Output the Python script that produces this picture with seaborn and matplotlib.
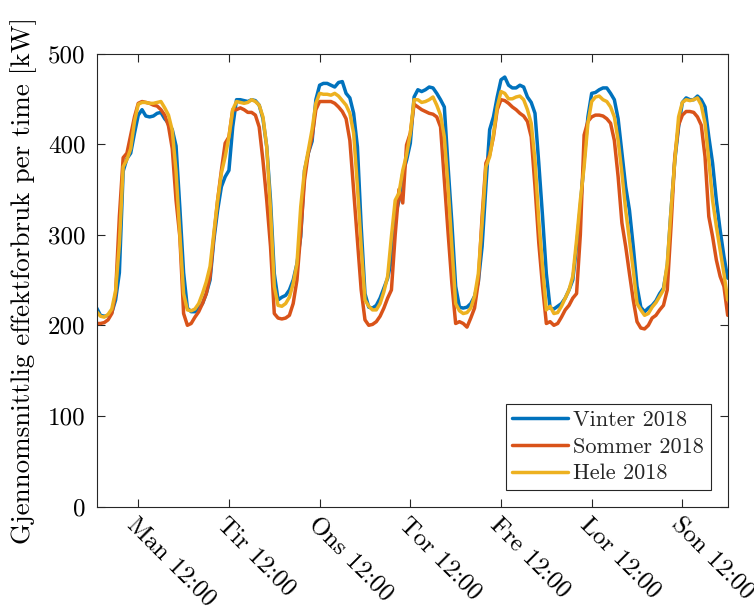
import matplotlib
matplotlib.use('Agg')
import matplotlib.pyplot as plt
import pandas as pd
import seaborn as sns

# ---------------- data ----------------
hours = list(range(1, 169))

vinter = [
    219, 211, 210, 211, 214, 228, 258, 370, 384, 390, 412, 432, 438, 431, 430, 431, 434, 435, 428, 423, 416, 398, 330, 258,
    219, 215, 215, 219, 224, 235, 250, 294, 327, 353, 364, 371, 419, 449, 449, 448, 447, 449, 448, 443, 428, 397, 338, 257,
    228, 231, 233, 239, 250, 268, 298, 371, 390, 403, 449, 465, 467, 467, 465, 463, 468, 469, 456, 451, 434, 397, 309, 235,
    220, 219, 222, 230, 241, 252, 272, 320, 338, 368, 382, 401, 452, 460, 458, 460, 463, 462, 456, 449, 441, 375, 313, 243,
    220, 219, 220, 224, 232, 248, 287, 353, 416, 430, 452, 471, 474, 465, 462, 462, 465, 463, 452, 446, 434, 379, 320, 257,
    219, 218, 221, 224, 230, 239, 250, 287, 331, 382, 430, 456, 457, 460, 462, 462, 456, 449, 428, 390, 353, 327, 287, 243,
    220, 215, 219, 222, 227, 235, 241, 265, 327, 382, 419, 446, 451, 449, 449, 453, 449, 441, 408, 379, 338, 305, 276, 252,
]

sommer = [
    202, 202, 203, 206, 213, 235, 320, 385, 390, 410, 430, 445, 447, 446, 445, 443, 442, 438, 432, 420, 395, 338, 298, 213,
    200, 202, 209, 215, 224, 235, 254, 298, 338, 371, 401, 408, 438, 438, 440, 438, 435, 435, 432, 419, 382, 338, 287, 213,
    208, 207, 208, 211, 224, 250, 302, 360, 390, 408, 438, 447, 447, 447, 447, 445, 441, 436, 428, 404, 349, 294, 239, 206,
    200, 201, 204, 210, 219, 230, 239, 300, 350, 335, 399, 412, 444, 441, 438, 436, 434, 433, 430, 419, 360, 302, 246, 202,
    204, 202, 198, 208, 219, 248, 320, 379, 388, 408, 438, 449, 448, 445, 441, 438, 434, 431, 425, 408, 353, 291, 243, 202,
    204, 200, 202, 209, 217, 222, 230, 235, 300, 410, 425, 430, 432, 432, 431, 428, 423, 404, 364, 313, 287, 257, 228, 204,
    197, 196, 200, 208, 211, 217, 222, 239, 309, 386, 421, 432, 436, 436, 435, 430, 421, 386, 320, 298, 272, 254, 243, 211,
]

hele = [
    215, 210, 209, 212, 218, 238, 290, 375, 383, 395, 425, 444, 446, 446, 445, 445, 446, 447, 440, 432, 415, 370, 300, 235,
    217, 216, 218, 224, 235, 248, 265, 302, 338, 368, 386, 408, 438, 447, 446, 445, 446, 449, 447, 443, 430, 397, 327, 243,
    222, 221, 224, 231, 246, 268, 331, 371, 393, 416, 445, 456, 455, 455, 454, 456, 453, 448, 443, 434, 412, 353, 287, 228,
    221, 217, 217, 224, 237, 254, 298, 338, 346, 371, 388, 412, 449, 449, 446, 447, 449, 452, 443, 432, 408, 353, 287, 224,
    216, 213, 214, 219, 232, 257, 313, 375, 386, 410, 441, 458, 456, 450, 450, 452, 453, 449, 438, 423, 382, 316, 265, 217,
    221, 213, 214, 221, 230, 239, 254, 294, 338, 375, 423, 447, 452, 453, 449, 447, 441, 430, 404, 368, 327, 294, 261, 224,
    217, 211, 213, 220, 225, 232, 239, 268, 327, 382, 430, 446, 449, 448, 449, 451, 443, 423, 382, 338, 309, 283, 257, 228,
]

series_names = ['Vinter 2018', 'Sommer 2018', 'Hele 2018']
colors = ['#0072BD', '#D95319', '#EDB120']
tick_pos = [12, 36, 60, 84, 108, 132, 156]
tick_labels = ['Man 12:00', 'Tir 12:00', 'Ons 12:00', 'Tor 12:00',
               'Fre 12:00', 'Lor 12:00', 'Son 12:00']
y_ticks = [0, 100, 200, 300, 400, 500]
y_label = 'Gjennomsnittlig effektforbruk per time [kW]'

# ---------------- build table ----------------
frames = []
for name, vals in zip(series_names, [vinter, sommer, hele]):
    frames.append(pd.DataFrame({'time': hours, 'kW': vals, 'serie': name}))
df = pd.concat(frames, ignore_index=True)

# ---------------- style ----------------
sns.set_theme(style='ticks')
plt.rcParams['font.family'] = ['cmr10', 'DejaVu Serif']
plt.rcParams['mathtext.fontset'] = 'cm'
plt.rcParams['axes.unicode_minus'] = False
plt.rcParams['axes.formatter.use_mathtext'] = True

fig = plt.figure(figsize=(7.54, 6.11), dpi=100)
ax = fig.add_axes([96.7 / 754, 1 - 506.5 / 611, 631 / 754, 453 / 611])

sns.lineplot(data=df, x='time', y='kW', hue='serie', hue_order=series_names,
             palette=colors, linewidth=2.5, ax=ax, sort=False)

ax.set_xlim(1, 168)
ax.set_ylim(0, 500)
ax.set_yticks(y_ticks)
ax.set_yticklabels([str(v) for v in y_ticks])
ax.set_xticks(tick_pos)
ax.set_xticklabels(tick_labels, rotation=-45, ha='left', va='top',
                   rotation_mode='anchor')
ax.set_xlabel('')
ax.set_ylabel(y_label, fontsize=19.5, color='black', labelpad=8)

edge = '#262626'
for s in ax.spines.values():
    s.set_visible(True)
    s.set_color(edge)
    s.set_linewidth(0.8)
ax.tick_params(axis='both', direction='in', length=6, width=0.8,
               top=True, right=True, color=edge, labelcolor='black',
               labelsize=18)
ax.tick_params(axis='x', pad=5)
ax.tick_params(axis='y', pad=8)
ax.grid(False)

handles, labels = ax.get_legend_handles_labels()
leg = ax.legend(handles, labels, loc='lower right',
                bbox_to_anchor=((711 - 96.7) / 631, (506.5 - 490) / 453),
                borderaxespad=0, fontsize=16, frameon=True, fancybox=False,
                framealpha=1, edgecolor=edge, handlelength=2.5,
                handletextpad=0.25, labelspacing=0.32, borderpad=0.3)
leg.get_frame().set_linewidth(0.8)
for line in leg.get_lines():
    line.set_linewidth(2.5)

fig.savefig('out.png', dpi=100)
